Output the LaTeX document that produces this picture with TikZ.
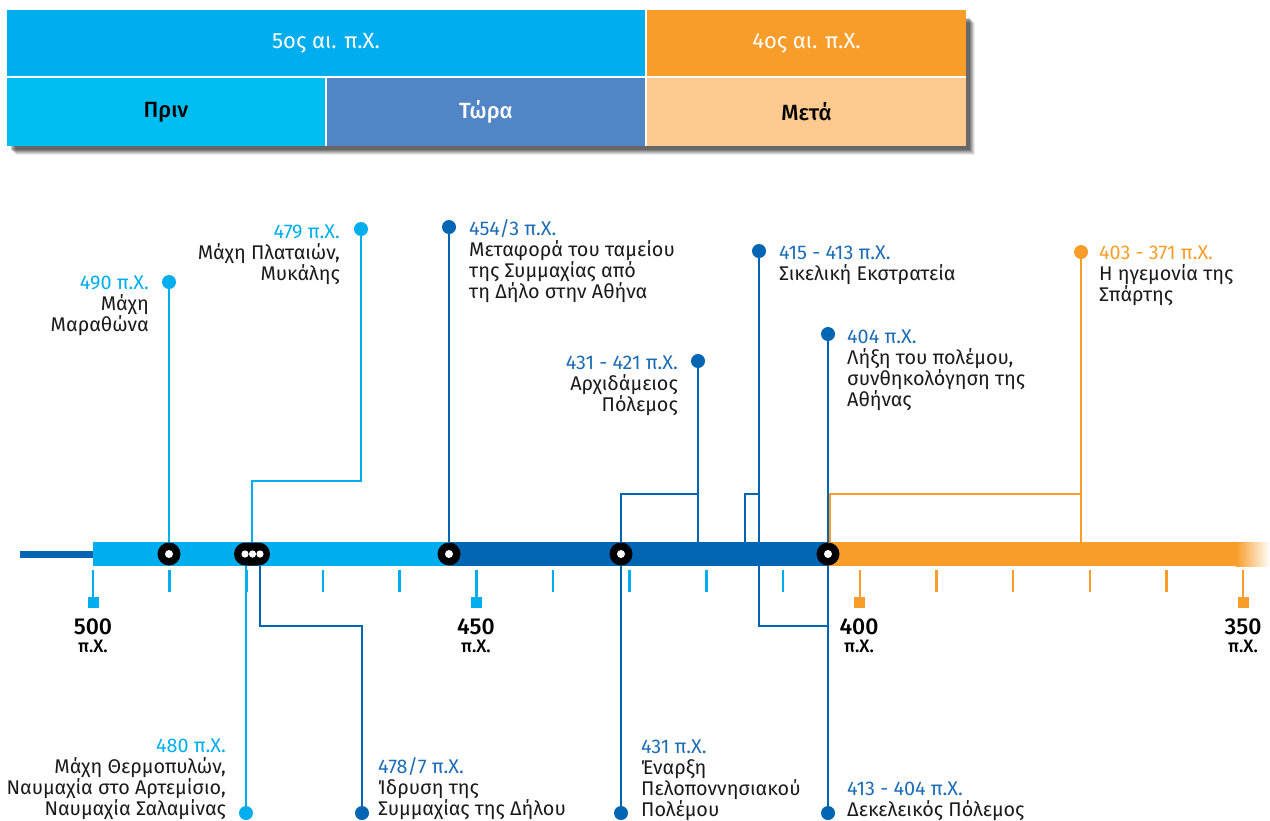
\documentclass[tikz,border=0pt]{standalone}
\usepackage{fontspec}
\setmainfont{Fira Sans}[BoldFont={Fira Sans Medium}]
\usetikzlibrary{shapes.misc}
\definecolor{lb}{HTML}{00AEEF}
\definecolor{db}{HTML}{0065B2}
\definecolor{dt}{HTML}{1C6CB6}
\definecolor{orr}{HTML}{F99D2A}
\definecolor{prin}{HTML}{00BDF2}
\definecolor{tora}{HTML}{5185C5}
\definecolor{meta}{HTML}{FCCA8E}
\definecolor{txt}{HTML}{1A1A1A}
\newcommand\firstln{\rule{0pt}{17pt}}
\tikzset{
  hbox/.style={inner sep=0pt, font=\fontsize{22}{24}\selectfont},
  hbold/.style={inner sep=0pt, font=\bfseries\fontsize{22}{24}\selectfont},
  stem/.style={line width=2.6pt},
  tickln/.style={line width=2.4pt},
  topdot/.style={circle, inner sep=0pt, minimum size=14pt},
  bardot/.style={circle, fill=black, inner sep=0pt, minimum size=23pt},
  lblR/.style={anchor=north east, align=right, inner sep=0pt, text=txt, font=\fontsize{19.8}{21}\selectfont},
  lblL/.style={anchor=north west, align=left, inner sep=0pt, text=txt, font=\fontsize{19.8}{21}\selectfont},
  yrlbl/.style={anchor=base, inner sep=0pt, font=\bfseries\fontsize{23}{25}\selectfont},
  pxlbl/.style={anchor=base, inner sep=0pt, font=\bfseries\fontsize{18}{20}\selectfont}
}
\begin{document}
\begin{tikzpicture}[x=1pt,y=-1pt]
\useasboundingbox (0,0) rectangle (1270,820);
% ---- header shadow
\foreach \i/\o in {9/0.08,8/0.10,7/0.12,6/0.15,5/0.18,4/0.20}
  \fill[black, opacity=\o] (7+\i,10+\i+4) rectangle (966+\i,146+\i);
\fill[white] (7,10) rectangle (966,146);
% ---- header
\node[hbox, fill=lb, minimum width=638pt, minimum height=66pt, text=white] (c5) at (326,43) {5ος αι. π.Χ.};
\node[hbox, fill=orr, minimum width=319pt, minimum height=66pt, text=white] (c4) at (806.5,43) {4ος αι. π.Χ.};
\node[hbold, fill=prin, minimum width=318pt, minimum height=68pt, text=black] (prin) at (166,112) {Πριν};
\node[hbold, fill=tora, minimum width=318pt, minimum height=68pt, text=white] (tora) at (486,112) {Τώρα};
\node[hbold, fill=meta, minimum width=319pt, minimum height=68pt, text=black] (meta) at (806.5,112) {Μετά};

% ---- coordinates
\coordinate (barc) at (0,554);
\coordinate (k494) at (0,494);
\coordinate (k479) at (252,481);
\coordinate (k478) at (362,626);
\coordinate (k413) at (828,626);
\coordinate (b415) at (745,554);
\coordinate (b413) at (759,554);
\coordinate (b403) at (830,554);

% ---- top markers
\node[topdot, fill=lb] (d490) at (169,282) {};
\node[topdot, fill=lb] (d479) at (361,229) {};
\node[topdot, fill=db] (d454) at (449,227) {};
\node[topdot, fill=db] (d431) at (698,361) {};
\node[topdot, fill=db] (d415) at (759,251) {};
\node[topdot, fill=db] (d404) at (828,334) {};
\node[topdot, fill=orr] (d403) at (1081,252) {};
% ---- bottom markers
\node[topdot, fill=lb] (e480) at (246,813) {};
\node[topdot, fill=db] (e478) at (362,813) {};
\node[topdot, fill=db] (e431) at (621,813) {};
\node[topdot, fill=db] (e413) at (828,813) {};

% ---- connectors (drawn under the bar)
\draw[lb, stem] (d490) -- (d490 |- barc);
\draw[lb, stem] (d479) |- (k479) -- (k479 |- barc);
\draw[db, stem] (d454) -- (d454 |- barc);
\draw[db, stem] (d431) -- (d431 |- barc);
\draw[db, stem] (d431 |- k494) -| (621,554);
\draw[db, stem] (d415) -- (d415 |- barc);
\draw[db, stem] (d415 |- k494) -| (b415);
\draw[orr, stem] (d403) -- (d403 |- barc);
\draw[orr, stem] (d403 |- k494) -| (b403);
\draw[db, stem] (d404) -- (d404 |- barc);
\draw[lb, stem] (246,554) -- (e480);
\draw[db, stem] (260,554) |- (k478) -- (e478);
\draw[db, stem] (621,554) -- (e431);
\draw[db, stem] (b413) |- (k413);
\draw[db, stem] (828,554) -- (e413);

% ---- bar
\fill[db] (20,550.5) rectangle (93,557.5);
\fill[lb] (93,542) rectangle (450,566);
\fill[db] (450,542) rectangle (828,566);
\fill[orr] (828,542) rectangle (1236,566);
\shade[left color=orr, right color=white] (1236,542) rectangle (1270,566);

% ---- bar markers
\foreach \n/\x in {m490/169, m454/449, m431/621, m404/828}{
  \node[bardot] (\n) at (\x,554) {};
  \fill[white] (\n) circle (4);
}
\node[rounded rectangle, fill=black, inner sep=0pt, minimum width=36pt, minimum height=23pt] (pill) at (252,554) {};
\foreach \x in {245,252.5,260} \fill[white] (\x,554) circle (3.6);

% ---- ticks
\foreach \yr in {500,490,...,410}{
  \pgfmathsetmacro{\tx}{93+(500-\yr)*7.667}
  \draw[lb, tickln] (\tx,570) -- (\tx,592);
}
\foreach \yr in {400,390,...,350}{
  \pgfmathsetmacro{\tx}{93+(500-\yr)*7.667}
  \draw[orr, tickln] (\tx,570) -- (\tx,592);
}
\foreach \x/\c in {93/lb, 476.3/lb, 859.7/orr, 1243/orr}{
  \draw[\c, tickln] (\x,590) -- (\x,598);
  \fill[\c] (\x-5.5,596.5) rectangle (\x+5.5,607.5);
}
\node[yrlbl] (y500) at (93,634) {500};
\node[pxlbl] (p500) at (93,652) {π.Χ.};
\node[yrlbl] (y450) at (476,634) {450};
\node[pxlbl] (p450) at (476,652) {π.Χ.};
\node[yrlbl] (y400) at (859,634) {400};
\node[pxlbl] (p400) at (859,652) {π.Χ.};
\node[yrlbl] (y350) at (1243,634) {350};
\node[pxlbl] (p350) at (1243,652) {π.Χ.};

% ---- event labels
\node[lblR] (l490) at (149,272) {\firstln\textcolor{lb}{490 π.Χ.}\\Μάχη\\Μαραθώνα};
\node[lblR] (l479) at (340,221) {\firstln\textcolor{lb}{479 π.Χ.}\\Μάχη Πλαταιών,\\Μυκάλης};
\node[lblL] (l454) at (469,218) {\firstln\textcolor{dt}{454/3 π.Χ.}\\Μεταφορά του ταμείου\\της Συμμαχίας από\\τη Δήλο στην Αθήνα};
\node[lblR] (l431a) at (678,352) {\firstln\textcolor{dt}{431 - 421 π.Χ.}\\Αρχιδάμειος\\Πόλεμος};
\node[lblL] (l415) at (779,242) {\firstln\textcolor{dt}{415 - 413 π.Χ.}\\Σικελική Εκστρατεία};
\node[lblL] (l404) at (847,326) {\firstln\textcolor{dt}{404 π.Χ.}\\Λήξη του πολέμου,\\συνθηκολόγηση της\\Αθήνας};
\node[lblL] (l403) at (1099,242) {\firstln\textcolor{orr}{403 - 371 π.Χ.}\\Η ηγεμονία της\\Σπάρτης};
\node[lblR] (l480) at (226,735) {\firstln\textcolor{lb}{480 π.Χ.}\\Μάχη Θερμοπυλών,\\Ναυμαχία στο Αρτεμίσιο,\\Ναυμαχία Σαλαμίνας};
\node[lblL] (l478) at (378,756) {\firstln\textcolor{dt}{478/7 π.Χ.}\\Ίδρυση της\\Συμμαχίας της Δήλου};
\node[lblL] (l431) at (641,736) {\firstln\textcolor{dt}{431 π.Χ.}\\Έναρξη\\Πελοποννησιακού\\Πολέμου};
\node[lblL] (l413) at (847,778) {\firstln\textcolor{dt}{413 - 404 π.Χ.}\\Δεκελεικός Πόλεμος};
\end{tikzpicture}
\end{document}
